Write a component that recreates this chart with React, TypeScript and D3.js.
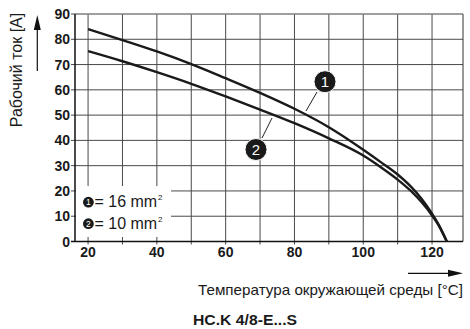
import React from "react";
import * as d3 from "d3";

const xTicks = [20, 40, 60, 80, 100, 120];
const yTicks = [0, 10, 20, 30, 40, 50, 60, 70, 80, 90];
const xGrid = [20, 30, 40, 50, 60, 70, 80, 90, 100, 110, 120];

const temps1 = [20, 30, 40, 50, 60, 70, 80, 90, 100, 105, 110, 114, 117, 120, 122, 124.3];
const curve16 = [84, 79.7, 75.2, 70.2, 64.6, 58.8, 52.5, 45.2, 36.3, 31.5, 26.5, 21.5, 16.8, 11, 6.5, 0];
const temps2 = [20, 30, 40, 50, 60, 70, 80, 90, 100, 105, 110, 114, 117, 120, 122, 124.3];
const curve10 = [75.3, 71.3, 67, 62.4, 57.4, 52.2, 46.8, 40.8, 34, 29.5, 24.5, 19.8, 15.5, 10.3, 6.2, 0];

const legendLabels = ["= 16 mm", "= 10 mm"];
const yTitle = "Рабочий ток [A]";
const xTitle = "Температура окружающей среды [°C]";
const caption = "HC.K 4/8-E...S";

const FONT = "'Liberation Sans', Arial, Helvetica, sans-serif";

export default function App() {
  const x = d3.scaleLinear().domain([16.2, 129]).range([75, 463]);
  const y = d3.scaleLinear().domain([0, 90]).range([241.5, 14]);
  const [x0, x1] = x.range();
  const [yb, yt] = y.range();

  const line = d3
    .line<[number, number]>()
    .x((d) => x(d[0]))
    .y((d) => y(d[1]))
    .curve(d3.curveMonotoneX);

  const d16 = line(temps1.map((t, i) => [t, curve16[i]]) as [number, number][]) || "";
  const d10 = line(temps2.map((t, i) => [t, curve10[i]]) as [number, number][]) || "";

  const gridColor = "#4a4a4a";

  return (
    <svg width={470} height={329} style={{ position: "absolute", left: 0, top: 0, background: "#fff" }}>
      <rect x={0} y={0} width={470} height={329} fill="#fff" />
      {/* grid */}
      {xGrid.map((v) => (
        <line key={"gx" + v} x1={x(v)} x2={x(v)} y1={yt} y2={yb + 3} stroke={gridColor} strokeWidth={1} />
      ))}
      {yTicks.slice(1).map((v) => (
        <line key={"gy" + v} x1={x0 - 4} x2={x1} y1={y(v)} y2={y(v)} stroke={gridColor} strokeWidth={1} />
      ))}
      {/* frame */}
      <line x1={x0} x2={x1} y1={yt} y2={yt} stroke="#999" strokeWidth={1} />
      <line x1={x1} x2={x1} y1={yt} y2={yb} stroke="#333" strokeWidth={1} />
      {/* legend box */}
      <rect x={x0 + 1} y={186} width={95} height={51} fill="#fff" />
      <line x1={x0} x2={x0} y1={yt} y2={yb} stroke="#111" strokeWidth={1.5} />
      <line x1={x0 - 4} x2={x1} y1={yb} y2={yb} stroke="#111" strokeWidth={1.5} />

      {/* curves */}
      <path d={d16} fill="none" stroke="#1a1a1a" strokeWidth={2.4} />
      <path d={d10} fill="none" stroke="#1a1a1a" strokeWidth={2.4} />

      {/* callouts */}
      <line x1={317} y1={92} x2={306} y2={111} stroke="#222" strokeWidth={1} />
      <circle cx={325} cy={81.7} r={11} fill="#1a1a1a" stroke="#fff" strokeWidth={1} />
      <text x={325} y={87} textAnchor="middle" fill="#fff" fontFamily={FONT} fontSize={15}>1</text>
      <line x1={262} y1={138} x2={272} y2={118} stroke="#222" strokeWidth={1} />
      <circle cx={256} cy={149.5} r={11} fill="#1a1a1a" stroke="#fff" strokeWidth={1} />
      <text x={256} y={155} textAnchor="middle" fill="#fff" fontFamily={FONT} fontSize={15}>2</text>

      {/* legend */}
      {legendLabels.map((lab, i) => (
        <g key={lab} transform={`translate(0, ${i * 21.5})`}>
          <circle cx={88.4} cy={202.2} r={5.4} fill="#1a1a1a" />
          <text x={88.4} y={205.2} textAnchor="middle" fill="#fff" fontFamily={FONT} fontSize={8.5}>{i + 1}</text>
          <text x={94.5} y={207} fontFamily={FONT} fontSize={16} fill="#1a1a1a">
            {lab}
          </text>
          <text x={158} y={200} fontFamily={FONT} fontSize={8} fill="#1a1a1a">2</text>
        </g>
      ))}

      {/* tick labels */}
      {yTicks.map((v) => (
        <text key={"yl" + v} x={70} y={y(v) + 5} textAnchor="end" fontFamily={FONT} fontWeight="bold" fontSize={14} fill="#1a1a1a">
          {v}
        </text>
      ))}
      {xTicks.map((v) => (
        <text key={"xl" + v} x={x(v)} y={257} textAnchor="middle" fontFamily={FONT} fontWeight="bold" fontSize={14} fill="#1a1a1a">
          {v}
        </text>
      ))}

      {/* y title + arrow */}
      <text transform="translate(21.5, 70) rotate(-90)" textAnchor="middle" fontFamily={FONT} fontSize={16} fill="#1a1a1a">
        {yTitle}
      </text>
      <line x1={37.3} x2={37.3} y1={71} y2={26} stroke="#111" strokeWidth={1.2} />
      <path d="M37.3,15 L33.8,30 L40.8,30 Z" fill="#111" />

      {/* x title + arrow */}
      <line x1={408} x2={452} y1={273.3} y2={273.3} stroke="#111" strokeWidth={1.2} />
      <path d="M463,273.3 L448,269.8 L448,276.8 Z" fill="#111" />
      <text x={198} y={294.5} fontFamily={FONT} fontSize={15} fill="#1a1a1a" textLength={265} lengthAdjust="spacingAndGlyphs">
        {xTitle}
      </text>

      {/* caption */}
      <text x={193} y={324.5} fontFamily={FONT} fontWeight="bold" fontSize={14} fill="#1a1a1a" textLength={104} lengthAdjust="spacingAndGlyphs">
        {caption}
      </text>
    </svg>
  );
}
